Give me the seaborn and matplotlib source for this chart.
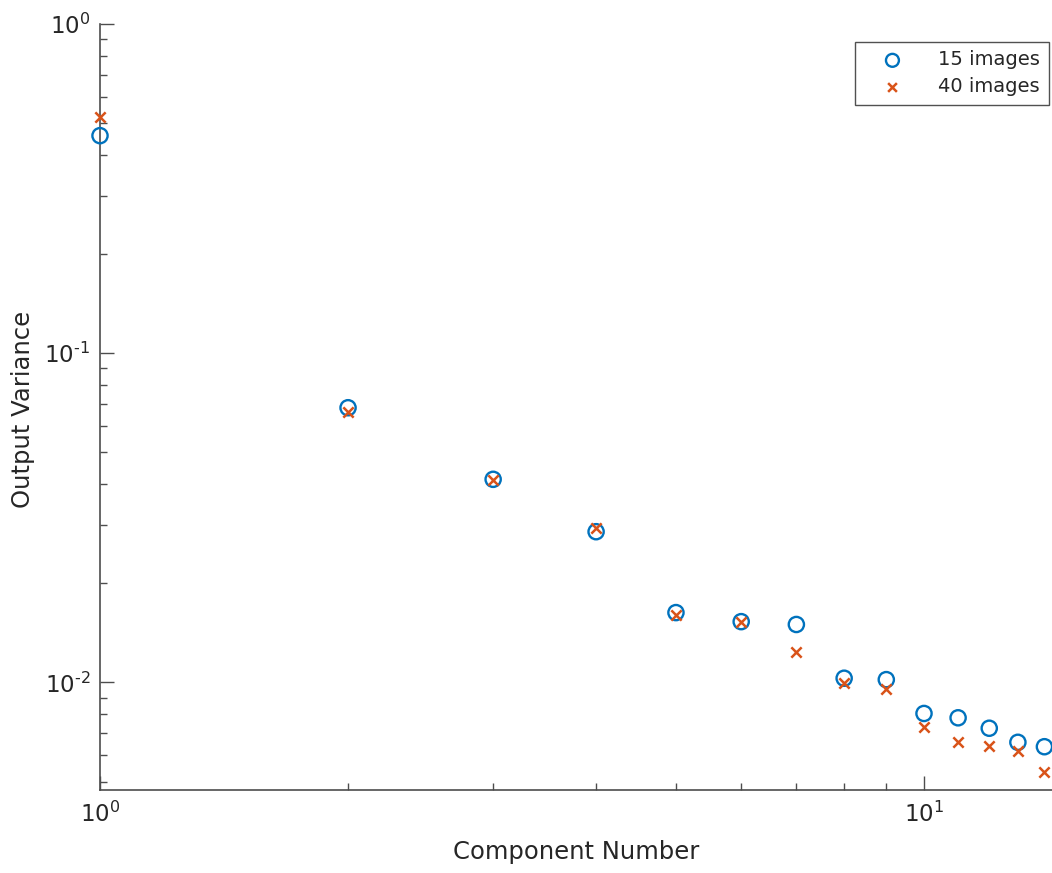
import numpy as np
import pandas as pd
import matplotlib
matplotlib.use("Agg")
import matplotlib.pyplot as plt
import seaborn as sns
from matplotlib.ticker import LogLocator, NullFormatter, FuncFormatter

# Set visual style
sns.set_style("ticks")
plt.rcParams["font.family"] = ["DejaVu Sans"]

# Data
components = [1, 2, 3, 4, 5, 6, 7, 8, 9, 10, 11, 12, 13, 14]
var_15 = [0.458, 0.0683, 0.0414, 0.0287, 0.0163, 0.0153, 0.0150,
          0.0103, 0.0102, 0.00805, 0.00781, 0.00726, 0.00658, 0.00638]
var_40 = [0.520, 0.0661, 0.0412, 0.0295, 0.0160, 0.0153, 0.0124,
          0.00998, 0.00952, 0.00733, 0.00658, 0.00641, 0.00620, 0.00533]
labels = ["15 images", "40 images"]

df = pd.DataFrame({"component": components, "v15": var_15, "v40": var_40})

blue = "#0072BD"
orange = "#D95319"
dark = "#262626"

fig = plt.figure(figsize=(10.52, 8.73), dpi=100)
ax = fig.add_axes([100 / 1052, (873 - 789.5) / 873, (1052 - 100) / 1052, (789.5 - 24) / 873])

sns.scatterplot(data=df, x="component", y="v15", marker="o", s=120,
                facecolors="none", edgecolor=blue, linewidth=1.7, ax=ax,
                label=labels[0], zorder=3, clip_on=False)
sns.scatterplot(data=df, x="component", y="v40", marker="x", s=55,
                color=orange, linewidth=1.8, ax=ax, label=labels[1], zorder=4,
                clip_on=False)

ax.set_xscale("log")
ax.set_yscale("log")
ax.set_xlim(1, 14.3)
ax.set_ylim(0.00473, 1)


def dec_fmt(v, pos):
    # MATLAB style exponent with a plain hyphen (U+2010) instead of a minus sign
    e = int(round(np.log10(v)))
    exp = str(e).replace("-", "\u2010")
    return r"$\mathdefault{10^{" + exp + "}}$"


ax.xaxis.set_major_locator(LogLocator(base=10))
ax.yaxis.set_major_locator(LogLocator(base=10))
ax.xaxis.set_major_formatter(FuncFormatter(dec_fmt))
ax.yaxis.set_major_formatter(FuncFormatter(dec_fmt))
ax.xaxis.set_minor_locator(LogLocator(base=10, subs=np.arange(2, 10)))
ax.yaxis.set_minor_locator(LogLocator(base=10, subs=np.arange(2, 10)))
ax.xaxis.set_minor_formatter(NullFormatter())
ax.yaxis.set_minor_formatter(NullFormatter())

ax.tick_params(which="major", direction="in", length=10, width=1.0,
               color="#4d4d4d", labelsize=16.5, labelcolor=dark)
ax.tick_params(which="minor", direction="in", length=5, width=1.0, color="#4d4d4d")
ax.tick_params(axis="x", which="major", pad=9)
ax.tick_params(axis="y", which="major", pad=7)

for side in ["top", "right"]:
    ax.spines[side].set_visible(False)
for side in ["left", "bottom"]:
    ax.spines[side].set_color("#4d4d4d")
    ax.spines[side].set_linewidth(1.2)

ax.set_xlabel("Component Number", fontsize=17.5, color=dark, va="center")
ax.set_ylabel("Output Variance", fontsize=17.5, color=dark, va="center")
ax.xaxis.set_label_coords(0.5, -0.0816)
ax.yaxis.set_label_coords(-0.081, 0.497)

leg = ax.legend(loc="upper right", bbox_to_anchor=(0.9966, 0.9769), fontsize=14,
                frameon=True, fancybox=False, edgecolor="#262626",
                borderaxespad=0, handlelength=3.0, handletextpad=0.85,
                borderpad=0.45, labelspacing=0.38, markerscale=0.85)
leg.get_frame().set_linewidth(1.0)
for t in leg.get_texts():
    t.set_color(dark)

fig.savefig("out.png", dpi=100)
